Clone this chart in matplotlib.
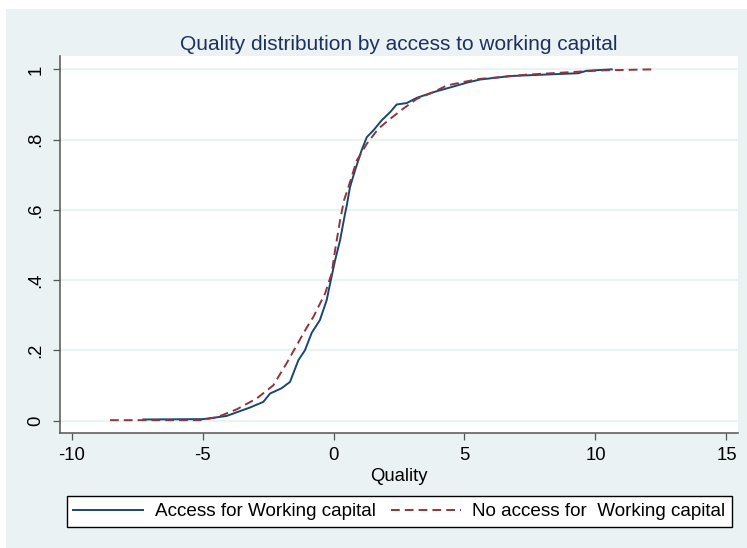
import matplotlib
matplotlib.use("Agg")
import matplotlib.pyplot as plt
from matplotlib.patches import Rectangle

plt.rcParams["font.family"] = ["Liberation Sans", "DejaVu Sans"]
plt.rcParams["axes.unicode_minus"] = False

# Empirical cumulative distribution of quality, by access to working capital
access_quality = [-7.26, -4.97, -4.08, -3.19, -2.68, -2.42, -1.98, -1.66, -1.34, -1.09,
                  -0.83, -0.52, -0.26, -0.13, 0.06, 0.25, 0.44, 0.50, 0.63, 0.82,
                  1.07, 1.27, 1.52, 1.84, 2.16, 2.41, 2.79, 3.18, 3.81, 4.57,
                  5.08, 5.59, 6.74, 8.01, 9.34, 9.66, 10.62]
access_share = [0.003, 0.004, 0.013, 0.037, 0.053, 0.077, 0.092, 0.110, 0.172, 0.200,
                0.250, 0.286, 0.343, 0.390, 0.456, 0.513, 0.589, 0.610, 0.665, 0.712,
                0.769, 0.807, 0.826, 0.855, 0.878, 0.900, 0.904, 0.919, 0.935, 0.951,
                0.962, 0.971, 0.981, 0.985, 0.989, 0.996, 1.000]

noaccess_quality = [-8.53, -5.10, -4.46, -3.69, -2.93, -2.30, -1.79, -1.40, -1.02, -0.77,
                    -0.32, -0.07, 0.06, 0.25, 0.40, 0.57, 0.89, 1.27, 1.71, 2.16,
                    2.66, 3.18, 3.81, 4.32, 4.95, 5.59, 6.10, 7.37, 9.03, 10.17, 12.15]
noaccess_share = [0.001, 0.001, 0.009, 0.032, 0.063, 0.100, 0.163, 0.215, 0.265, 0.295,
                  0.362, 0.419, 0.485, 0.570, 0.627, 0.665, 0.741, 0.788, 0.831, 0.859,
                  0.888, 0.916, 0.935, 0.954, 0.964, 0.973, 0.976, 0.985, 0.992, 0.997, 1.000]

x_ticks = [-10, -5, 0, 5, 10, 15]
x_labels = ["-10", "-5", "0", "5", "10", "15"]
y_ticks = [0, 0.2, 0.4, 0.6, 0.8, 1.0]
y_labels = ["0", ".2", ".4", ".6", ".8", "1"]

W, H = 747, 548
bg = "#EAF2F3"
navy = "#1A476F"
maroon = "#90353B"
axis_gray = "#555555"

fig = plt.figure(figsize=(W / 100, H / 100), dpi=100, facecolor=bg)
# thin white strips along the top and left edges
fig.patches.append(Rectangle((0, 1 - 9 / H), 1, 9 / H, transform=fig.transFigure,
                             facecolor="white", edgecolor="none", zorder=-10))
fig.patches.append(Rectangle((0, 0), 6 / W, 1, transform=fig.transFigure,
                             facecolor="white", edgecolor="none", zorder=-10))

ax = fig.add_axes([60 / W, (H - 432.7) / H, (738 - 60) / W, (432.7 - 56) / H])
ax.set_facecolor("white")

ax.plot(access_quality, access_share, color=navy, lw=1.4,
        label="Access for Working capital", zorder=3)
ax.plot(noaccess_quality, noaccess_share, color=maroon, lw=1.4,
        linestyle=(0, (4.5, 2.6)), label="No access for  Working capital", zorder=3)

ax.set_xlim(-10.44, 15.44)
ax.set_ylim(-0.0347, 1.0381)

ax.set_xticks(x_ticks)
ax.set_xticklabels(x_labels)
ax.set_yticks(y_ticks)
ax.set_yticklabels(y_labels, rotation=90, va="center")

ax.yaxis.grid(True, color=bg, lw=1.6, zorder=0)
ax.set_axisbelow(True)

for side in ("top", "right"):
    ax.spines[side].set_visible(False)
for side in ("left", "bottom"):
    ax.spines[side].set_color(axis_gray)
    ax.spines[side].set_linewidth(1.1)

ax.tick_params(axis="both", direction="out", length=5, width=0.9, color=axis_gray,
               labelsize=13.3, labelcolor="black")
ax.tick_params(axis="x", pad=5)
ax.tick_params(axis="y", pad=6)

ax.set_xlabel("Quality", fontsize=13.3, labelpad=3, color="black")
ax.set_title("Quality distribution by access to working capital", fontsize=15,
             color="#1E3060", pad=4)

leg = ax.legend(loc="center", ncol=2, mode="expand",
                bbox_to_anchor=(66.7 / W, (H - 529) / H, (732 - 66.7) / W, 35 / H),
                bbox_transform=fig.transFigure, fontsize=13.6, frameon=True,
                fancybox=False, edgecolor="black", facecolor="white", framealpha=1,
                handlelength=3.7, handletextpad=0.6, columnspacing=0.9,
                borderpad=0.35, borderaxespad=0)
leg.get_frame().set_linewidth(1.0)

fig.savefig("out.png", dpi=100, facecolor=fig.get_facecolor())
